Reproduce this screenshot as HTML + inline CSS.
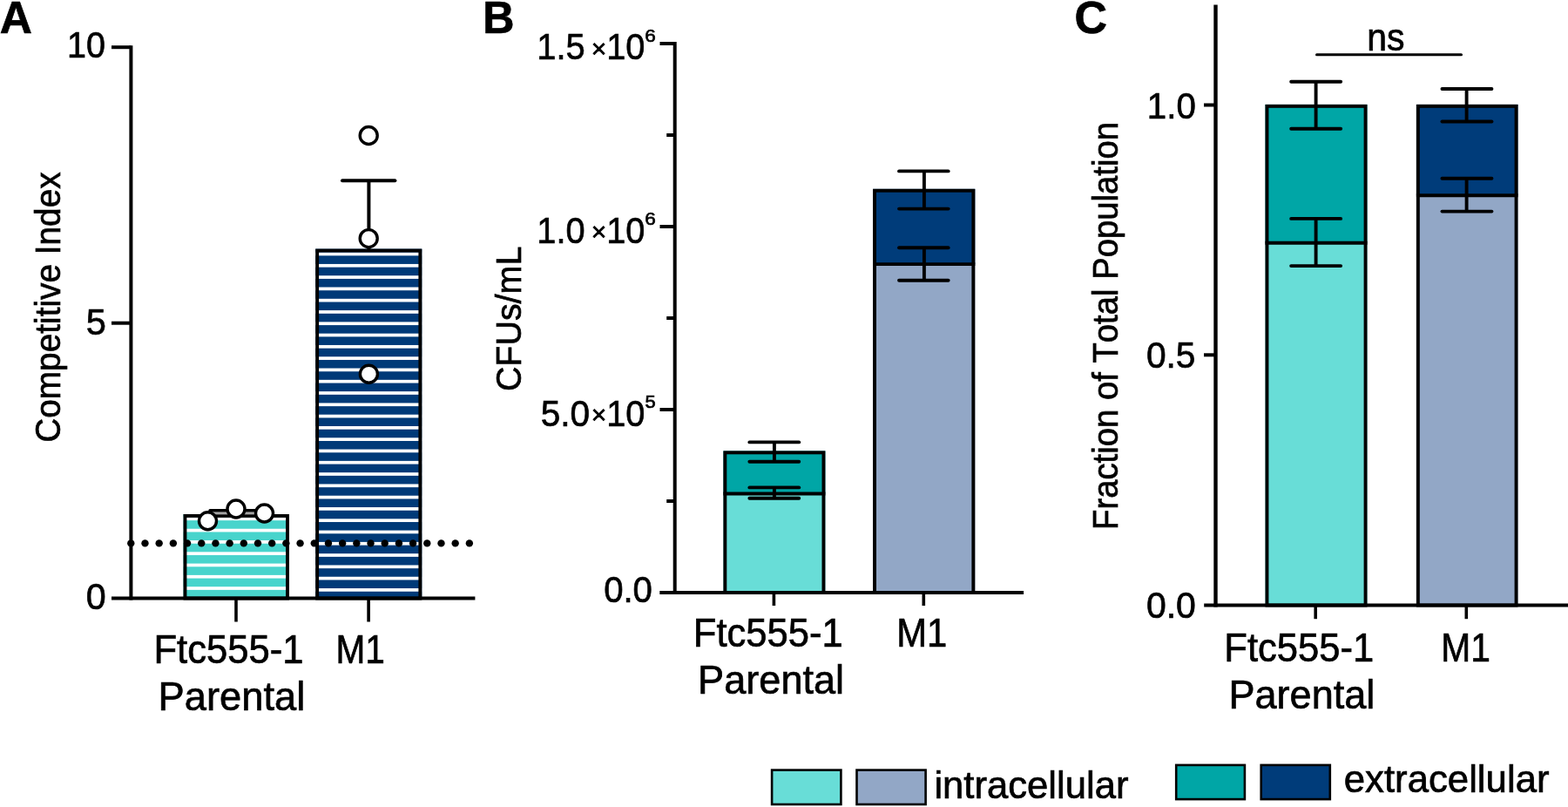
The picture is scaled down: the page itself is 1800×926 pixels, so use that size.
<!DOCTYPE html>
<html><head><meta charset="utf-8"><title>Figure</title>
<style>
html,body{margin:0;padding:0;background:#fff;}
body{width:1800px;height:926px;overflow:hidden;}
svg{display:block;}
text{font-family:"Liberation Sans",Arial,Helvetica,sans-serif;fill:#000;font-kerning:none;stroke:#000;stroke-width:0.7px;}
</style></head><body>
<svg width="1800" height="926" viewBox="0 0 1800 926">
<rect width="1800" height="926" fill="#fff"/>
<text x="-0.28" y="38.00" font-size="52.00" font-weight="bold" textLength="37.14" lengthAdjust="spacingAndGlyphs">A</text>
<rect x="210.50" y="590.00" width="121.50" height="96.50" fill="#48d4cc"/><rect x="210.50" y="593.45" width="121.50" height="3.70" fill="#fff"/><rect x="210.50" y="606.74" width="121.50" height="3.70" fill="#fff"/><rect x="210.50" y="620.03" width="121.50" height="3.70" fill="#fff"/><rect x="210.50" y="633.32" width="121.50" height="3.70" fill="#fff"/><rect x="210.50" y="646.61" width="121.50" height="3.70" fill="#fff"/><rect x="210.50" y="659.90" width="121.50" height="3.70" fill="#fff"/><rect x="210.50" y="673.19" width="121.50" height="3.70" fill="#fff"/><rect x="212.45" y="591.95" width="117.60" height="94.60" fill="none" stroke="#000" stroke-width="3.90"/>
<rect x="362.20" y="285.60" width="122.10" height="400.90" fill="#003a78"/><rect x="362.20" y="289.65" width="122.10" height="3.70" fill="#fff"/><rect x="362.20" y="302.94" width="122.10" height="3.70" fill="#fff"/><rect x="362.20" y="316.23" width="122.10" height="3.70" fill="#fff"/><rect x="362.20" y="329.52" width="122.10" height="3.70" fill="#fff"/><rect x="362.20" y="342.81" width="122.10" height="3.70" fill="#fff"/><rect x="362.20" y="356.10" width="122.10" height="3.70" fill="#fff"/><rect x="362.20" y="369.39" width="122.10" height="3.70" fill="#fff"/><rect x="362.20" y="382.68" width="122.10" height="3.70" fill="#fff"/><rect x="362.20" y="395.97" width="122.10" height="3.70" fill="#fff"/><rect x="362.20" y="409.26" width="122.10" height="3.70" fill="#fff"/><rect x="362.20" y="422.55" width="122.10" height="3.70" fill="#fff"/><rect x="362.20" y="435.84" width="122.10" height="3.70" fill="#fff"/><rect x="362.20" y="449.13" width="122.10" height="3.70" fill="#fff"/><rect x="362.20" y="462.42" width="122.10" height="3.70" fill="#fff"/><rect x="362.20" y="475.71" width="122.10" height="3.70" fill="#fff"/><rect x="362.20" y="489.00" width="122.10" height="3.70" fill="#fff"/><rect x="362.20" y="502.29" width="122.10" height="3.70" fill="#fff"/><rect x="362.20" y="515.58" width="122.10" height="3.70" fill="#fff"/><rect x="362.20" y="528.87" width="122.10" height="3.70" fill="#fff"/><rect x="362.20" y="542.16" width="122.10" height="3.70" fill="#fff"/><rect x="362.20" y="555.45" width="122.10" height="3.70" fill="#fff"/><rect x="362.20" y="568.74" width="122.10" height="3.70" fill="#fff"/><rect x="362.20" y="582.03" width="122.10" height="3.70" fill="#fff"/><rect x="362.20" y="595.32" width="122.10" height="3.70" fill="#fff"/><rect x="362.20" y="608.61" width="122.10" height="3.70" fill="#fff"/><rect x="362.20" y="621.90" width="122.10" height="3.70" fill="#fff"/><rect x="362.20" y="635.19" width="122.10" height="3.70" fill="#fff"/><rect x="362.20" y="648.48" width="122.10" height="3.70" fill="#fff"/><rect x="362.20" y="661.77" width="122.10" height="3.70" fill="#fff"/><rect x="362.20" y="675.06" width="122.10" height="3.70" fill="#fff"/><rect x="364.15" y="287.55" width="118.20" height="399.00" fill="none" stroke="#000" stroke-width="3.90"/>
<line x1="423.40" y1="207.30" x2="423.40" y2="287.00" stroke="#000" stroke-width="4.00" stroke-linecap="butt"/>
<line x1="393.00" y1="207.30" x2="453.40" y2="207.30" stroke="#000" stroke-width="4.00" stroke-linecap="round"/>
<rect x="241.00" y="587.40" width="60.00" height="3.00" fill="#a4a4a4"/>
<line x1="241.00" y1="585.80" x2="301.00" y2="585.80" stroke="#000" stroke-width="3.40" stroke-linecap="round"/>
<circle cx="150.30" cy="623.4" r="4.2" fill="#000"/>
<circle cx="166.49" cy="623.4" r="4.2" fill="#000"/>
<circle cx="182.68" cy="623.4" r="4.2" fill="#000"/>
<circle cx="198.87" cy="623.4" r="4.2" fill="#000"/>
<circle cx="215.06" cy="623.4" r="4.2" fill="#000"/>
<circle cx="231.25" cy="623.4" r="4.2" fill="#000"/>
<circle cx="247.44" cy="623.4" r="4.2" fill="#000"/>
<circle cx="263.63" cy="623.4" r="4.2" fill="#000"/>
<circle cx="279.82" cy="623.4" r="4.2" fill="#000"/>
<circle cx="296.01" cy="623.4" r="4.2" fill="#000"/>
<circle cx="312.20" cy="623.4" r="4.2" fill="#000"/>
<circle cx="328.39" cy="623.4" r="4.2" fill="#000"/>
<circle cx="344.58" cy="623.4" r="4.2" fill="#000"/>
<circle cx="360.77" cy="623.4" r="4.2" fill="#000"/>
<circle cx="376.96" cy="623.4" r="4.2" fill="#000"/>
<circle cx="393.15" cy="623.4" r="4.2" fill="#000"/>
<circle cx="409.34" cy="623.4" r="4.2" fill="#000"/>
<circle cx="425.53" cy="623.4" r="4.2" fill="#000"/>
<circle cx="441.72" cy="623.4" r="4.2" fill="#000"/>
<circle cx="457.91" cy="623.4" r="4.2" fill="#000"/>
<circle cx="474.10" cy="623.4" r="4.2" fill="#000"/>
<circle cx="490.29" cy="623.4" r="4.2" fill="#000"/>
<circle cx="506.48" cy="623.4" r="4.2" fill="#000"/>
<circle cx="522.67" cy="623.4" r="4.2" fill="#000"/>
<circle cx="538.86" cy="623.4" r="4.2" fill="#000"/>
<line x1="150.40" y1="52.20" x2="150.40" y2="688.50" stroke="#000" stroke-width="4.00" stroke-linecap="butt"/>
<line x1="128.00" y1="54.20" x2="150.40" y2="54.20" stroke="#000" stroke-width="4.00" stroke-linecap="butt"/>
<line x1="128.00" y1="370.70" x2="150.40" y2="370.70" stroke="#000" stroke-width="4.00" stroke-linecap="butt"/>
<line x1="128.00" y1="686.50" x2="545.40" y2="686.50" stroke="#000" stroke-width="4.00" stroke-linecap="butt"/>
<line x1="271.00" y1="686.50" x2="271.00" y2="713.50" stroke="#000" stroke-width="3.60" stroke-linecap="butt"/>
<line x1="423.10" y1="686.50" x2="423.10" y2="713.50" stroke="#000" stroke-width="3.60" stroke-linecap="butt"/>
<circle cx="238.50" cy="597.75" r="10.00" fill="#fff" stroke="#000" stroke-width="3.40"/>
<circle cx="271.00" cy="584.00" r="10.00" fill="#fff" stroke="#000" stroke-width="3.40"/>
<circle cx="303.50" cy="589.00" r="10.00" fill="#fff" stroke="#000" stroke-width="3.40"/>
<circle cx="423.20" cy="155.50" r="10.00" fill="#fff" stroke="#000" stroke-width="3.40"/>
<circle cx="423.20" cy="273.60" r="10.00" fill="#fff" stroke="#000" stroke-width="3.40"/>
<circle cx="423.40" cy="429.20" r="10.00" fill="#fff" stroke="#000" stroke-width="3.40"/>
<text x="76.99" y="66.30" font-size="42.00" textLength="43.95" lengthAdjust="spacingAndGlyphs">10</text>
<text x="98.64" y="383.60" font-size="42.00" textLength="23.11" lengthAdjust="spacingAndGlyphs">5</text>
<text x="98.79" y="698.70" font-size="42.00" textLength="22.92" lengthAdjust="spacingAndGlyphs">0</text>
<text x="176.42" y="761.40" font-size="46.50" textLength="172.11" lengthAdjust="spacingAndGlyphs">Ftc555-1</text>
<text x="181.59" y="814.90" font-size="46.50" textLength="168.64" lengthAdjust="spacingAndGlyphs">Parental</text>
<text x="385.47" y="761.40" font-size="46.50" textLength="56.41" lengthAdjust="spacingAndGlyphs">M1</text>
<g transform="translate(68.80,0) rotate(-90)"><text x="-507.77" y="0.00" font-size="41.00" textLength="310.39" lengthAdjust="spacingAndGlyphs">Competitive Index</text></g>
<text x="554.24" y="37.80" font-size="52.00" font-weight="bold" textLength="36.23" lengthAdjust="spacingAndGlyphs">B</text>
<rect x="830.40" y="566.50" width="117.00" height="113.50" fill="#68ddd7"/>
<rect x="830.40" y="517.40" width="117.00" height="49.10" fill="#00a6a6"/>
<rect x="832.35" y="519.35" width="113.10" height="160.70" fill="none" stroke="#000" stroke-width="3.90"/>
<line x1="830.40" y1="566.50" x2="947.40" y2="566.50" stroke="#000" stroke-width="3.90" stroke-linecap="butt"/>
<rect x="1002.10" y="303.10" width="117.20" height="376.90" fill="#92a7c6"/>
<rect x="1002.10" y="216.80" width="117.20" height="86.30" fill="#003c7a"/>
<rect x="1004.05" y="218.75" width="113.30" height="461.30" fill="none" stroke="#000" stroke-width="3.90"/>
<line x1="1002.10" y1="303.10" x2="1119.30" y2="303.10" stroke="#000" stroke-width="3.90" stroke-linecap="butt"/>
<line x1="888.90" y1="507.40" x2="888.90" y2="529.70" stroke="#000" stroke-width="3.90" stroke-linecap="butt"/><line x1="860.35" y1="507.40" x2="917.25" y2="507.40" stroke="#000" stroke-width="3.90" stroke-linecap="round"/><line x1="860.35" y1="529.70" x2="917.25" y2="529.70" stroke="#000" stroke-width="3.90" stroke-linecap="round"/>
<line x1="888.90" y1="559.40" x2="888.90" y2="571.80" stroke="#000" stroke-width="3.90" stroke-linecap="butt"/><line x1="860.35" y1="559.40" x2="917.25" y2="559.40" stroke="#000" stroke-width="3.90" stroke-linecap="round"/><line x1="860.35" y1="571.80" x2="917.25" y2="571.80" stroke="#000" stroke-width="3.90" stroke-linecap="round"/>
<line x1="1060.90" y1="196.40" x2="1060.90" y2="239.60" stroke="#000" stroke-width="3.90" stroke-linecap="butt"/><line x1="1032.05" y1="196.40" x2="1088.65" y2="196.40" stroke="#000" stroke-width="3.90" stroke-linecap="round"/><line x1="1032.05" y1="239.60" x2="1088.65" y2="239.60" stroke="#000" stroke-width="3.90" stroke-linecap="round"/>
<line x1="1060.90" y1="284.20" x2="1060.90" y2="321.70" stroke="#000" stroke-width="3.90" stroke-linecap="butt"/><line x1="1032.05" y1="284.20" x2="1088.65" y2="284.20" stroke="#000" stroke-width="3.90" stroke-linecap="round"/><line x1="1032.05" y1="321.70" x2="1088.65" y2="321.70" stroke="#000" stroke-width="3.90" stroke-linecap="round"/>
<line x1="774.70" y1="48.00" x2="774.70" y2="682.00" stroke="#000" stroke-width="4.00" stroke-linecap="butt"/>
<line x1="757.50" y1="50.00" x2="774.70" y2="50.00" stroke="#000" stroke-width="4.00" stroke-linecap="butt"/>
<line x1="757.50" y1="260.00" x2="774.70" y2="260.00" stroke="#000" stroke-width="4.00" stroke-linecap="butt"/>
<line x1="757.50" y1="470.00" x2="774.70" y2="470.00" stroke="#000" stroke-width="4.00" stroke-linecap="butt"/>
<line x1="765.20" y1="155.00" x2="774.70" y2="155.00" stroke="#000" stroke-width="4.00" stroke-linecap="butt"/>
<line x1="765.20" y1="365.00" x2="774.70" y2="365.00" stroke="#000" stroke-width="4.00" stroke-linecap="butt"/>
<line x1="765.20" y1="575.00" x2="774.70" y2="575.00" stroke="#000" stroke-width="4.00" stroke-linecap="butt"/>
<line x1="757.30" y1="680.00" x2="1175.10" y2="680.00" stroke="#000" stroke-width="4.00" stroke-linecap="butt"/>
<line x1="888.40" y1="680.00" x2="888.40" y2="695.00" stroke="#000" stroke-width="3.60" stroke-linecap="butt"/>
<line x1="1060.30" y1="680.00" x2="1060.30" y2="695.00" stroke="#000" stroke-width="3.60" stroke-linecap="butt"/>
<text x="616.36" y="68.40" font-size="42.00" textLength="55.41" lengthAdjust="spacingAndGlyphs">1.5</text><text x="678.72" y="65.65" font-size="29.60" textLength="17.55" lengthAdjust="spacingAndGlyphs">×</text><text x="696.27" y="68.40" font-size="42.00" textLength="44.18" lengthAdjust="spacingAndGlyphs">10</text><text x="740.16" y="48.10" font-size="21.00" textLength="12.54" lengthAdjust="spacingAndGlyphs">6</text>
<text x="616.27" y="278.60" font-size="42.00" textLength="55.28" lengthAdjust="spacingAndGlyphs">1.0</text><text x="678.72" y="275.85" font-size="29.60" textLength="17.55" lengthAdjust="spacingAndGlyphs">×</text><text x="696.27" y="278.60" font-size="42.00" textLength="44.18" lengthAdjust="spacingAndGlyphs">10</text><text x="740.16" y="258.30" font-size="21.00" textLength="12.54" lengthAdjust="spacingAndGlyphs">6</text>
<text x="620.67" y="488.50" font-size="42.00" textLength="56.52" lengthAdjust="spacingAndGlyphs">5.0</text><text x="678.72" y="485.75" font-size="29.60" textLength="17.55" lengthAdjust="spacingAndGlyphs">×</text><text x="696.27" y="488.50" font-size="42.00" textLength="44.18" lengthAdjust="spacingAndGlyphs">10</text><text x="740.42" y="468.20" font-size="21.00" textLength="12.20" lengthAdjust="spacingAndGlyphs">5</text>
<text x="693.13" y="691.40" font-size="42.00" textLength="55.84" lengthAdjust="spacingAndGlyphs">0.0</text>
<text x="795.83" y="741.70" font-size="46.50" textLength="171.90" lengthAdjust="spacingAndGlyphs">Ftc555-1</text>
<text x="801.10" y="795.60" font-size="46.50" textLength="168.02" lengthAdjust="spacingAndGlyphs">Parental</text>
<text x="1029.18" y="741.70" font-size="46.50" textLength="57.96" lengthAdjust="spacingAndGlyphs">M1</text>
<g transform="translate(598.00,0) rotate(-90)"><text x="-449.10" y="0.00" font-size="41.00" textLength="166.41" lengthAdjust="spacingAndGlyphs">CFUs/mL</text></g>
<text x="1233.47" y="38.40" font-size="52.00" font-weight="bold" textLength="37.55" lengthAdjust="spacingAndGlyphs">C</text>
<rect x="1452.50" y="278.70" width="117.00" height="415.80" fill="#68ddd7"/>
<rect x="1452.50" y="119.90" width="117.00" height="158.80" fill="#00a6a6"/>
<rect x="1454.45" y="121.85" width="113.10" height="572.70" fill="none" stroke="#000" stroke-width="3.90"/>
<line x1="1452.50" y1="278.70" x2="1569.50" y2="278.70" stroke="#000" stroke-width="3.90" stroke-linecap="butt"/>
<rect x="1625.90" y="224.20" width="116.60" height="470.30" fill="#92a7c6"/>
<rect x="1625.90" y="119.90" width="116.60" height="104.30" fill="#003c7a"/>
<rect x="1627.85" y="121.85" width="112.70" height="572.70" fill="none" stroke="#000" stroke-width="3.90"/>
<line x1="1625.90" y1="224.20" x2="1742.50" y2="224.20" stroke="#000" stroke-width="3.90" stroke-linecap="butt"/>
<line x1="1510.60" y1="93.80" x2="1510.60" y2="147.80" stroke="#000" stroke-width="3.90" stroke-linecap="butt"/><line x1="1482.15" y1="93.80" x2="1539.15" y2="93.80" stroke="#000" stroke-width="3.90" stroke-linecap="round"/><line x1="1482.15" y1="147.80" x2="1539.15" y2="147.80" stroke="#000" stroke-width="3.90" stroke-linecap="round"/>
<line x1="1510.60" y1="250.90" x2="1510.60" y2="305.10" stroke="#000" stroke-width="3.90" stroke-linecap="butt"/><line x1="1482.15" y1="250.90" x2="1539.15" y2="250.90" stroke="#000" stroke-width="3.90" stroke-linecap="round"/><line x1="1482.15" y1="305.10" x2="1539.15" y2="305.10" stroke="#000" stroke-width="3.90" stroke-linecap="round"/>
<line x1="1683.60" y1="102.00" x2="1683.60" y2="139.50" stroke="#000" stroke-width="3.90" stroke-linecap="butt"/><line x1="1655.45" y1="102.00" x2="1712.45" y2="102.00" stroke="#000" stroke-width="3.90" stroke-linecap="round"/><line x1="1655.45" y1="139.50" x2="1712.45" y2="139.50" stroke="#000" stroke-width="3.90" stroke-linecap="round"/>
<line x1="1683.60" y1="204.70" x2="1683.60" y2="242.60" stroke="#000" stroke-width="3.90" stroke-linecap="butt"/><line x1="1655.45" y1="204.70" x2="1712.45" y2="204.70" stroke="#000" stroke-width="3.90" stroke-linecap="round"/><line x1="1655.45" y1="242.60" x2="1712.45" y2="242.60" stroke="#000" stroke-width="3.90" stroke-linecap="round"/>
<line x1="1395.50" y1="5.40" x2="1395.50" y2="696.50" stroke="#000" stroke-width="4.40" stroke-linecap="butt"/>
<line x1="1382.00" y1="120.50" x2="1395.50" y2="120.50" stroke="#000" stroke-width="4.00" stroke-linecap="butt"/>
<line x1="1382.00" y1="407.30" x2="1395.50" y2="407.30" stroke="#000" stroke-width="4.00" stroke-linecap="butt"/>
<line x1="1382.20" y1="694.50" x2="1800.00" y2="694.50" stroke="#000" stroke-width="4.00" stroke-linecap="butt"/>
<line x1="1510.20" y1="694.50" x2="1510.20" y2="710.20" stroke="#000" stroke-width="3.60" stroke-linecap="butt"/>
<line x1="1683.30" y1="694.50" x2="1683.30" y2="710.20" stroke="#000" stroke-width="3.60" stroke-linecap="butt"/>
<line x1="1511.50" y1="62.70" x2="1677.50" y2="62.70" stroke="#000" stroke-width="3.00" stroke-linecap="round"/>
<text x="1569.28" y="57.80" font-size="44.00" textLength="43.30" lengthAdjust="spacingAndGlyphs">ns</text>
<text x="1316.83" y="135.50" font-size="42.00" textLength="55.94" lengthAdjust="spacingAndGlyphs">1.0</text>
<text x="1315.91" y="422.30" font-size="42.00" textLength="56.60" lengthAdjust="spacingAndGlyphs">0.5</text>
<text x="1315.90" y="709.30" font-size="42.00" textLength="56.90" lengthAdjust="spacingAndGlyphs">0.0</text>
<text x="1405.33" y="758.90" font-size="46.50" textLength="171.80" lengthAdjust="spacingAndGlyphs">Ftc555-1</text>
<text x="1410.50" y="812.80" font-size="46.50" textLength="167.81" lengthAdjust="spacingAndGlyphs">Parental</text>
<text x="1654.36" y="759.20" font-size="46.50" textLength="56.64" lengthAdjust="spacingAndGlyphs">M1</text>
<g transform="translate(1283.20,0) rotate(-90)"><text x="-607.94" y="0.00" font-size="41.00" textLength="467.92" lengthAdjust="spacingAndGlyphs">Fraction of Total Population</text></g>
<rect x="886.10" y="883.60" width="79.30" height="39.40" fill="#68ddd7" stroke="#000" stroke-width="2.60"/>
<rect x="983.50" y="883.60" width="79.10" height="39.40" fill="#92a7c6" stroke="#000" stroke-width="2.60"/>
<text x="1072.38" y="916.00" font-size="44.50" textLength="223.04" lengthAdjust="spacingAndGlyphs">intracellular</text>
<rect x="1350.20" y="877.90" width="78.70" height="39.20" fill="#00a6a6" stroke="#000" stroke-width="2.60"/>
<rect x="1447.70" y="877.90" width="79.10" height="39.20" fill="#003c7a" stroke="#000" stroke-width="2.60"/>
<text x="1542.74" y="908.70" font-size="44.50" textLength="235.78" lengthAdjust="spacingAndGlyphs">extracellular</text>
</svg>
</body></html>
